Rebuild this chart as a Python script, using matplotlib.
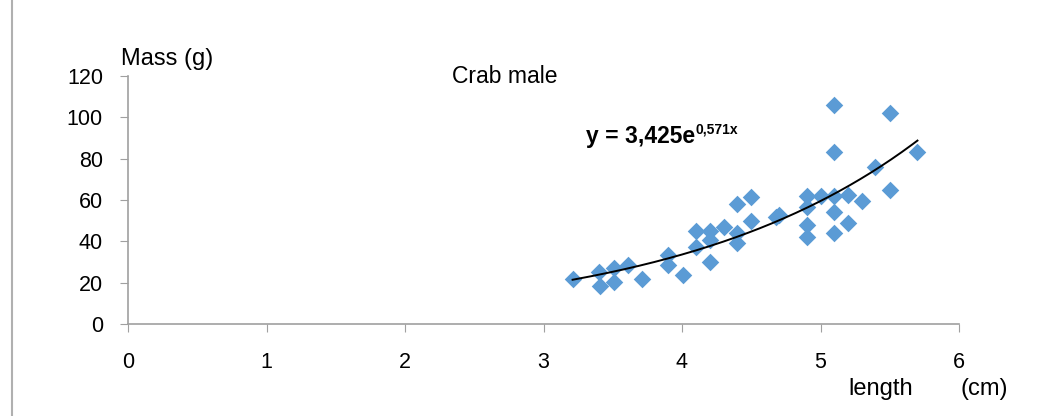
import numpy as np
import matplotlib
matplotlib.use("Agg")
import matplotlib.pyplot as plt
from matplotlib.lines import Line2D

plt.rcParams['font.family'] = ['Liberation Sans', 'DejaVu Sans']

# crab male: carapace length (cm) vs mass (g)
length_cm = [3.21, 3.40, 3.51, 3.41, 3.51, 3.61, 3.71, 3.90, 3.90, 4.01,
             4.10, 4.10, 4.20, 4.20, 4.20, 4.30, 4.40, 4.50, 4.50, 4.40,
             4.40, 4.68, 5.10, 5.50, 5.10, 5.70, 5.39, 5.50, 4.90, 5.00,
             5.10, 5.20, 5.30, 4.90, 5.10, 4.70, 4.90, 5.20, 4.90, 5.10]
mass_g = [22.0, 25.3, 27.0, 18.5, 20.5, 28.6, 21.6, 33.4, 28.6, 23.7,
          45.2, 37.4, 45.2, 40.7, 30.2, 47.1, 58.1, 61.4, 50.0, 44.2,
          39.2, 52.0, 106.0, 102.3, 83.4, 83.4, 75.9, 64.9, 61.7, 62.0,
          61.7, 62.5, 59.7, 56.8, 54.4, 52.8, 47.9, 48.8, 42.3, 43.9]

# exponential trendline y = a * exp(b x)
fit_a = 3.425
fit_b = 0.571
x_ticks = [0, 1, 2, 3, 4, 5, 6]
y_ticks = [0, 20, 40, 60, 80, 100, 120]

fig = plt.figure(figsize=(10.52, 4.16), dpi=100)
ax = fig.add_axes([128 / 1052, 1 - 324 / 416, (959 - 128) / 1052, (324 - 76) / 416])

ax.scatter(length_cm, mass_g, marker='D', s=80, color='#5B9BD5', linewidths=0, zorder=2)

xs = np.linspace(min(length_cm), max(length_cm), 200)
ax.plot(xs, fit_a * np.exp(fit_b * xs), color='black', lw=1.4, zorder=3)

ax.set_xlim(0, 6)
ax.set_ylim(0, 120)
ax.set_xticks(x_ticks)
ax.set_yticks(y_ticks)
ax.tick_params(labelsize=15.5, length=6, color='#A0A0A0', direction='out')
ax.tick_params(axis='x', pad=14)
ax.tick_params(axis='y', pad=12)
for s in ['top', 'right']:
    ax.spines[s].set_visible(False)
for s in ['left', 'bottom']:
    ax.spines[s].set_color('#A0A0A0')
    ax.spines[s].set_linewidth(1.2)

# equation label
eq = ax.text(3.31, 87.6, 'y = 3,425e', fontsize=16.5, fontweight='bold', va='baseline')
ax.annotate('0,571x', xy=(1, 1), xycoords=eq, fontsize=10, fontweight='bold',
            va='top', ha='left', xytext=(0, 2), textcoords='offset points')

fig.text(121 / 1052, 1 - 65 / 416, 'Mass (g)', fontsize=17, va='baseline')
fig.text(452 / 1052, 1 - 83 / 416, 'Crab male', fontsize=16.5, va='baseline')
fig.text(848 / 1052, 21 / 416, 'length', fontsize=17, va='baseline')
fig.text(960 / 1052, 21 / 416, '(cm)', fontsize=17, va='baseline')

# page border on the left
fig.add_artist(Line2D([12 / 1052, 12 / 1052], [0, 1], color='#B0B0B0', lw=1.5,
                      transform=fig.transFigure))

fig.savefig('out.png', dpi=100)
